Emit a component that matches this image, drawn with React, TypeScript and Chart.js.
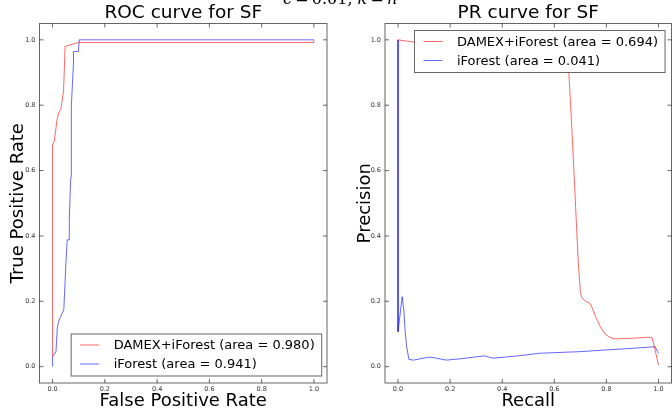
import React, { useEffect, useRef } from 'react';
import { Chart, registerables } from 'chart.js';

Chart.register(...registerables);

// ---------- data ----------
const tickValues = [0, 0.2, 0.4, 0.6, 0.8, 1.0];

const rocDamexFpr = [0, 0, 0.0065, 0.017, 0.023, 0.032, 0.042, 0.048, 0.1, 1.0, 1.0];
const rocDamexTpr = [0.03, 0.68, 0.689, 0.755, 0.776, 0.79, 0.842, 0.98, 0.992, 0.992, 1.0];

const rocIforestFpr = [0, 0, 0.013, 0.018, 0.023, 0.036, 0.043, 0.051, 0.056, 0.064, 0.064, 0.069, 0.071, 0.071, 0.0725, 0.078, 0.08, 0.08, 0.099, 0.102, 1.0];
const rocIforestTpr = [0, 0.03, 0.046, 0.117, 0.138, 0.163, 0.174, 0.316, 0.388, 0.388, 0.449, 0.571, 0.582, 0.694, 0.796, 0.898, 0.929, 0.964, 0.964, 1.0, 1.0];

const prDamexRecall = [0, 0.07, 0.3, 0.55, 0.64, 0.656, 0.668, 0.68, 0.692, 0.7, 0.705, 0.714, 0.739, 0.748, 0.758, 0.777, 0.795, 0.809, 0.828, 0.9, 0.962, 0.975, 0.98, 0.987, 1.0];
const prDamexPrecision = [1.0, 0.992, 0.97, 0.94, 0.91, 0.898, 0.72, 0.52, 0.32, 0.23, 0.212, 0.204, 0.192, 0.175, 0.153, 0.122, 0.1, 0.092, 0.085, 0.087, 0.09, 0.088, 0.075, 0.051, 0.005];

const prIforestRecall = [0, 0, 0.016, 0.023, 0.027, 0.033, 0.042, 0.06, 0.09, 0.12, 0.14, 0.186, 0.25, 0.331, 0.364, 0.45, 0.542, 0.7, 0.796, 0.9, 0.987, 1.0];
const prIforestPrecision = [1.0, 0.107, 0.214, 0.168, 0.112, 0.061, 0.022, 0.02, 0.025, 0.029, 0.027, 0.02, 0.025, 0.033, 0.026, 0.032, 0.041, 0.046, 0.051, 0.056, 0.061, 0.041];

const rocLabels = ['DAMEX+iForest (area = 0.980)', 'iForest (area = 0.941)'];
const prLabels = ['DAMEX+iForest (area = 0.694)', 'iForest (area = 0.041)'];

const RED = 'rgba(255,0,0,0.6)';
const BLUE = 'rgba(0,0,255,0.6)';
const FONT = '"DejaVu Sans", sans-serif';

const toPoints = (xs: number[], ys: number[]) => xs.map((x, i) => ({ x, y: ys[i] }));

// ---------- plugins ----------
const frameTicksPlugin = {
  id: 'frameTicks',
  afterDatasetsDraw(chart: any) {
    const { ctx, chartArea: a, scales } = chart;
    ctx.save();
    ctx.strokeStyle = 'rgba(0,0,0,0.6)';
    ctx.lineWidth = 1;
    ctx.strokeRect(a.left, a.top, a.right - a.left, a.bottom - a.top);
    const len = 4;
    ctx.beginPath();
    for (const v of tickValues) {
      const x = scales.x.getPixelForValue(v);
      ctx.moveTo(x, a.bottom);
      ctx.lineTo(x, a.bottom - len);
      ctx.moveTo(x, a.top);
      ctx.lineTo(x, a.top + len);
      const y = scales.y.getPixelForValue(v);
      ctx.moveTo(a.left, y);
      ctx.lineTo(a.left + len, y);
      ctx.moveTo(a.right, y);
      ctx.lineTo(a.right - len, y);
    }
    ctx.stroke();
    ctx.restore();
  },
};

const boxLegendPlugin = {
  id: 'boxLegend',
  afterDatasetsDraw(chart: any, _args: any, opts: any) {
    const { ctx, chartArea: a } = chart;
    const ds = chart.data.datasets;
    ctx.save();
    ctx.font = `13px ${FONT}`;
    const maxW = Math.max(...ds.map((d: any) => ctx.measureText(d.label).width));
    const w = opts.textOffset + maxW + opts.rightPad;
    const h = opts.height;
    const left = a.right - opts.dx - w;
    const top = opts.corner === 'bottom' ? a.bottom - opts.dy - h : a.top + opts.dy;
    ctx.fillStyle = '#ffffff';
    ctx.fillRect(left, top, w, h);
    ctx.strokeStyle = 'rgba(0,0,0,0.6)';
    ctx.lineWidth = 1;
    ctx.strokeRect(left, top, w, h);
    ds.forEach((d: any, i: number) => {
      const y = top + opts.firstRow + i * opts.rowGap;
      ctx.strokeStyle = d.borderColor;
      ctx.lineWidth = d.borderWidth;
      ctx.beginPath();
      ctx.moveTo(left + opts.sampleStart, y);
      ctx.lineTo(left + opts.sampleStart + opts.sampleLen, y);
      ctx.stroke();
      ctx.fillStyle = '#000';
      ctx.textBaseline = 'middle';
      ctx.textAlign = 'left';
      ctx.fillText(d.label, left + opts.textOffset, y + 0.8);
    });
    ctx.restore();
  },
};

function makeConfig(opts: {
  title: string;
  xTitle: string;
  yTitle: string;
  series: { label: string; color: string; xs: number[]; ys: number[] }[];
  yAxisWidth: number;
  yTitlePad: number;
  rightPad: number;
  legendCorner: string;
  legendDx: number;
}): any {
  return {
    type: 'line',
    data: {
      datasets: opts.series.map((s) => ({
        label: s.label,
        data: toPoints(s.xs, s.ys),
        borderColor: s.color,
        backgroundColor: s.color,
        borderWidth: 1,
        pointRadius: 0,
        fill: false,
        tension: 0,
      })),
    },
    plugins: [frameTicksPlugin, boxLegendPlugin],
    options: {
      responsive: false,
      animation: false,
      events: [],
      layout: { padding: { left: 0, right: opts.rightPad, top: 0, bottom: 0 } },
      plugins: {
        legend: { display: false },
        tooltip: { enabled: false },
        title: {
          display: true,
          text: opts.title,
          fullSize: false,
          color: '#000',
          font: { family: FONT, size: 18.5, weight: 'normal', lineHeight: 1 },
          padding: { top: 4, bottom: 1 },
        },
        boxLegend: {
          corner: opts.legendCorner,
          dx: opts.legendDx,
          dy: 7,
          textOffset: 42.5,
          rightPad: 7,
          height: 42,
          firstRow: 11,
          rowGap: 19,
          sampleStart: 9,
          sampleLen: 19,
        },
      },
      scales: {
        x: {
          type: 'linear',
          min: -0.05,
          max: 1.05,
          grid: { display: false, drawTicks: false },
          border: { display: false },
          ticks: {
            color: '#333',
            font: { family: FONT, size: 6.5 },
            padding: 2.5,
            maxRotation: 0,
            autoSkip: false,
            callback: (v: any) => Number(v).toFixed(1),
          },
          afterBuildTicks: (s: any) => {
            s.ticks = tickValues.map((v) => ({ value: v }));
          },
          afterFit: (s: any) => {
            s.height = 27;
          },
          title: {
            display: true,
            text: opts.xTitle,
            color: '#000',
            font: { family: FONT, size: 18, lineHeight: 1 },
            padding: { top: 0, bottom: 0 },
          },
        },
        y: {
          type: 'linear',
          min: -0.05,
          max: 1.05,
          grid: { display: false, drawTicks: false },
          border: { display: false },
          ticks: {
            color: '#333',
            font: { family: FONT, size: 6.5 },
            padding: 4,
            autoSkip: false,
            callback: (v: any) => Number(v).toFixed(1),
          },
          afterBuildTicks: (s: any) => {
            s.ticks = tickValues.map((v) => ({ value: v }));
          },
          afterFit: (s: any) => {
            s.width = opts.yAxisWidth;
          },
          title: {
            display: true,
            text: opts.yTitle,
            color: '#000',
            font: { family: FONT, size: 18, lineHeight: 1 },
            padding: { top: opts.yTitlePad, bottom: 0 },
          },
        },
      },
    },
  };
}

export default function App() {
  const leftRef = useRef<HTMLCanvasElement>(null);
  const rightRef = useRef<HTMLCanvasElement>(null);

  useEffect(() => {
    const c1 = new Chart(
      leftRef.current as HTMLCanvasElement,
      makeConfig({
        title: 'ROC curve for SF',
        xTitle: 'False Positive Rate',
        yTitle: 'True Positive Rate',
        series: [
          { label: rocLabels[0], color: RED, xs: rocDamexFpr, ys: rocDamexTpr },
          { label: rocLabels[1], color: BLUE, xs: rocIforestFpr, ys: rocIforestTpr },
        ],
        yAxisWidth: 39.5,
        yTitlePad: 9,
        rightPad: 9,
        legendCorner: 'bottom',
        legendDx: 5.3,
      })
    );
    const c2 = new Chart(
      rightRef.current as HTMLCanvasElement,
      makeConfig({
        title: 'PR curve for SF',
        xTitle: 'Recall',
        yTitle: 'Precision',
        series: [
          { label: prLabels[0], color: RED, xs: prDamexRecall, ys: prDamexPrecision },
          { label: prLabels[1], color: BLUE, xs: prIforestRecall, ys: prIforestPrecision },
        ],
        yAxisWidth: 49,
        yTitlePad: 20,
        rightPad: 0.5,
        legendCorner: 'top',
        legendDx: 6.5,
      })
    );
    return () => {
      c1.destroy();
      c2.destroy();
    };
  }, []);

  return (
    <div
      style={{
        position: 'fixed',
        left: 0,
        top: 0,
        width: 672,
        height: 410,
        background: '#fff',
        overflow: 'hidden',
      }}
    >
      <canvas ref={leftRef} width={336} height={410} style={{ position: 'absolute', left: 0, top: 0 }} />
      <canvas ref={rightRef} width={336} height={410} style={{ position: 'absolute', left: 336, top: 0 }} />
      <div
        style={{
          position: 'absolute',
          left: 283,
          top: -9,
          fontFamily: '"DejaVu Serif", serif',
          fontSize: 16,
          lineHeight: '16px',
          color: '#000',
          whiteSpace: 'nowrap',
        }}
      >
        <i>ϵ</i>{'\u2009=\u2009'}0.01, <i>k</i>{'\u2009=\u2009'}<i>n</i>
      </div>
    </div>
  );
}
